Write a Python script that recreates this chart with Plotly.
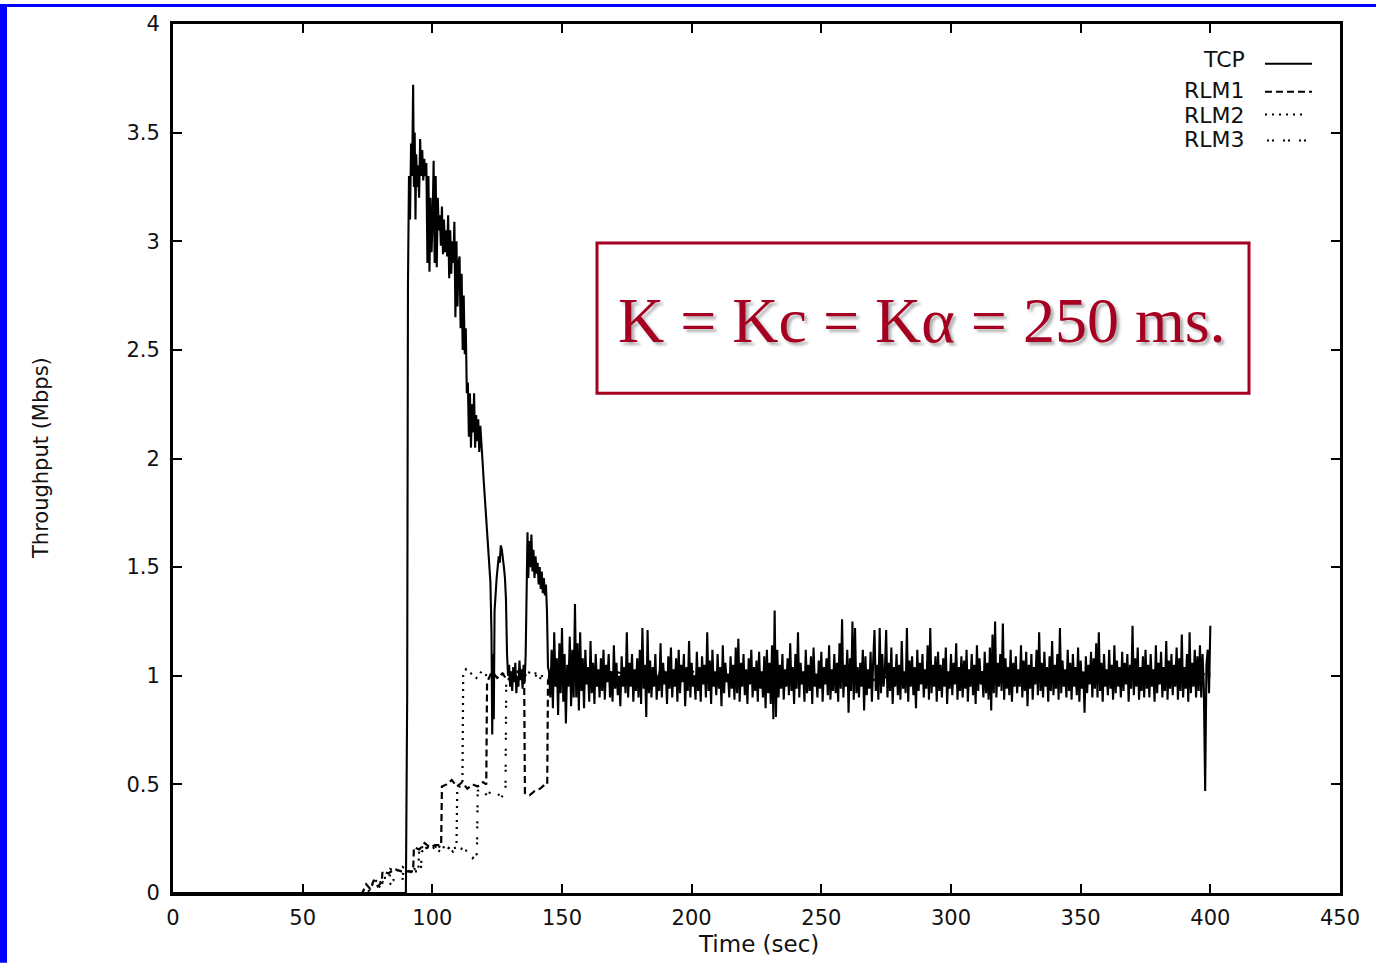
import numpy as np
import plotly.graph_objects as go

# ---------------- data ----------------
x_ticks = [0, 50, 100, 150, 200, 250, 300, 350, 400, 450]
y_ticks = [0, 0.5, 1, 1.5, 2, 2.5, 3, 3.5, 4]

# TCP: start-up burst (time, Mbps)
tcp_burst = [
    (0, 0), (89.8, 0), (90.3, 0.9), (90.6, 2.8), (91, 3.3), (91.4, 3.1), (91.8, 3.45),
    (92.2, 3.3), (92.6, 3.72), (92.9, 3.25), (93.2, 3.5), (93.5, 3.1), (93.8, 3.4),
    (94.1, 3.25), (94.5, 3.35), (94.9, 3.2), (95.3, 3.47), (95.7, 3.3), (96.1, 3.42),
    (96.5, 3.28), (96.9, 3.38), (97.3, 3.3), (97.7, 3.36), (98.1, 2.9), (98.5, 3.3),
    (98.9, 2.86), (99.3, 3.2), (99.7, 2.95), (100.1, 3.1), (100.5, 3.37), (100.9, 2.9),
    (101.3, 3.3), (101.7, 2.88), (102.1, 3.2), (102.5, 3.05), (102.9, 3.12), (103.3, 2.98),
    (103.7, 3.16), (104.1, 2.94), (104.5, 3.1), (104.9, 2.95), (105.3, 3.05), (105.7, 2.93),
    (106.1, 3.12), (106.5, 2.83), (106.9, 3.05), (107.3, 2.85), (107.7, 3.0), (108.1, 2.9),
    (108.5, 3.09), (108.9, 2.65), (109.3, 3.0), (109.7, 2.7), (110.1, 2.9), (110.5, 2.93),
    (110.9, 2.6), (111.3, 2.85), (111.7, 2.5), (112.1, 2.75), (112.5, 2.48), (112.9, 2.6),
    (113.3, 2.3), (113.7, 2.35), (114.1, 2.1), (114.5, 2.3), (114.9, 2.05), (115.3, 2.25),
    (115.7, 2.12), (116.1, 2.3), (116.5, 2.05), (116.9, 2.2), (117.3, 2.08), (117.7, 2.18),
    (118.1, 2.03), (118.5, 2.15), (118.9, 2.05), (119.3, 2.0), (119.8, 1.9), (120.3, 1.8),
    (120.8, 1.72), (121.2, 1.62), (121.6, 1.55), (122, 1.48), (122.4, 1.43), (122.8, 1.2),
    (123.1, 0.73), (123.4, 1.1), (123.7, 0.8), (124, 1.3), (124.4, 1.4), (124.8, 1.45),
    (125.2, 1.5), (125.6, 1.55), (126, 1.52), (126.4, 1.6), (126.8, 1.58), (127.2, 1.55),
    (127.6, 1.5), (128, 1.45), (128.4, 1.35), (128.8, 1.1), (129.2, 1.0), (129.6, 1.05),
    (130, 0.95), (130.4, 1.02), (130.8, 0.93), (131.2, 1.04), (131.6, 0.97), (132, 1.06),
    (132.4, 0.92), (132.8, 1.0), (133.2, 0.95), (133.6, 1.07), (134, 0.98), (134.4, 1.03),
    (134.8, 0.94), (135.2, 1.05), (135.6, 0.97), (136, 1.1), (136.4, 1.4), (136.7, 1.66),
    (137, 1.45), (137.4, 1.62), (137.8, 1.5), (138.2, 1.65), (138.6, 1.48), (139, 1.58),
    (139.4, 1.45), (139.8, 1.55), (140.2, 1.47), (140.6, 1.52), (141, 1.42), (141.4, 1.5),
    (141.8, 1.4), (142.2, 1.48), (142.6, 1.38), (143, 1.45), (143.4, 1.37), (143.8, 1.42),
    (144.2, 1.3), (144.6, 1.04),
]

# TCP: steady state, one reading every 0.5 s starting at t = 145 s
tcp_steady_start = 145.0
tcp_steady_step = 0.5
tcp_steady = [
    1.02, 0.9, 1.12, 0.85, 1.2, 0.95, 1.08, 0.82, 1.15, 0.92, 1.22, 0.88, 1.1, 0.78, 1.05, 0.95, 1.18, 0.86, 1.12, 0.9,
    1.33, 0.9, 1.15, 0.84, 1.2, 0.93, 1.08, 0.85, 1.12, 0.96, 1.04, 0.88, 1.16, 0.92, 1.06, 0.87, 1.1, 0.95, 1.03, 0.9,
    1.08, 0.93, 1.12, 0.89, 1.05, 0.97, 1.1, 0.9, 1.02, 0.88, 1.14, 0.94, 1.06, 0.91, 1.0, 0.86, 1.09, 0.95, 1.04, 0.92,
    1.2, 0.9, 1.06, 0.95, 1.1, 0.88, 1.03, 0.93, 1.08, 0.9, 1.12, 0.87, 1.22, 0.94, 1.05, 0.81, 1.21, 0.92, 1.07, 0.9,
    1.04, 0.95, 1.1, 0.89, 1.0, 0.93, 1.15, 0.9, 1.06, 0.96, 1.02, 0.87, 1.09, 0.94, 1.13, 0.9, 1.03, 0.95, 1.08, 0.88,
    1.12, 0.92, 1.05, 0.97, 1.1, 0.86, 1.04, 0.93, 1.16, 0.9, 1.06, 0.95, 1.0, 0.89, 1.11, 0.93, 1.04, 0.88, 1.09, 0.96,
    1.05, 0.9, 1.2, 0.93, 1.07, 0.87, 1.12, 0.95, 1.02, 0.91, 1.1, 0.94, 1.04, 0.86, 1.14, 0.92, 1.06, 0.97, 1.01, 0.9,
    1.09, 0.94, 1.05, 0.89, 1.13, 0.92, 1.17, 0.88, 1.06, 0.95, 1.1, 0.91, 1.03, 0.87, 1.08, 0.96, 1.12, 0.9, 1.04, 0.93,
    1.07, 0.88, 1.11, 0.94, 1.02, 0.9, 1.09, 0.85, 1.12, 0.92, 1.06, 0.87, 1.14, 0.8, 1.3, 0.81, 1.12, 0.9, 1.05, 0.94,
    1.1, 0.89, 1.03, 0.95, 1.08, 0.91, 1.15, 0.93, 1.04, 0.87, 1.1, 0.94, 1.2, 0.9, 1.06, 0.96, 1.02, 0.88, 1.12, 0.92,
    1.05, 0.93, 1.09, 0.87, 1.13, 0.95, 1.01, 0.9, 1.07, 0.94, 1.11, 0.88, 1.04, 0.96, 1.08, 0.91, 1.14, 0.89, 1.03, 0.93,
    1.1, 0.92, 1.06, 0.88, 1.15, 0.94, 1.26, 0.9, 1.05, 0.95, 1.12, 0.83, 1.08, 0.93, 1.25, 0.89, 1.22, 0.92, 1.04, 0.9,
    1.06, 0.95, 1.12, 0.84, 1.09, 0.91, 1.03, 0.94, 1.11, 0.88, 1.07, 1.21, 0.93, 1.05, 0.89, 1.22, 0.92, 1.1, 0.95, 1.02,
    1.21, 0.9, 1.06, 0.93, 1.13, 0.87, 1.04, 0.95, 1.1, 0.91, 1.05, 0.89, 1.16, 0.94, 1.02, 0.92, 1.22, 0.88, 1.07, 0.95,
    1.09, 0.91, 1.04, 0.85, 1.12, 0.93, 1.06, 0.96, 1.1, 0.9, 1.03, 0.94, 1.14, 0.89, 1.22, 0.92, 1.05, 0.95, 1.09, 0.88,
    1.11, 0.93, 1.05, 0.9, 1.08, 0.95, 1.13, 0.87, 1.02, 0.94, 1.1, 0.91, 1.06, 0.96, 1.15, 0.89, 1.04, 0.93, 1.09, 0.9,
    1.07, 0.94, 1.12, 0.88, 1.03, 0.95, 1.1, 0.91, 1.05, 0.87, 1.14, 0.93, 1.08, 0.96, 1.02, 0.9, 1.11, 0.92, 1.06, 0.89,
    1.13, 0.84, 1.19, 0.92, 1.25, 0.9, 1.06, 0.95, 1.1, 0.93, 1.24, 0.89, 1.08, 0.94, 1.04, 0.91, 1.12, 0.88, 1.06, 0.95,
    1.09, 0.92, 1.03, 0.95, 1.14, 0.9, 1.07, 0.93, 1.11, 0.86, 1.05, 0.94, 1.1, 0.89, 1.04, 0.96, 1.12, 0.91, 1.2, 0.93,
    1.06, 0.9, 1.11, 0.95, 1.04, 0.88, 1.09, 0.93, 1.16, 0.91, 1.05, 0.94, 1.1, 0.89, 1.22, 0.92, 1.07, 0.95, 1.03, 0.9,
    1.12, 0.93, 1.06, 0.89, 1.1, 0.95, 1.04, 0.91, 1.13, 0.88, 1.07, 0.94, 1.02, 0.83, 1.09, 0.92, 1.05, 0.96, 1.11, 0.9,
    1.08, 0.94, 1.15, 0.9, 1.2, 0.93, 1.06, 0.88, 1.1, 0.95, 1.03, 0.91, 1.12, 0.94, 1.05, 0.89, 1.14, 0.92, 1.07, 0.95,
    1.04, 0.9, 1.11, 0.93, 1.06, 0.96, 1.1, 0.88, 1.05, 0.94, 1.23, 0.91, 1.08, 0.95, 1.13, 0.89, 1.04, 0.93, 1.09, 0.9,
    1.12, 0.94, 1.05, 0.9, 1.1, 0.95, 1.03, 0.88, 1.14, 0.92, 1.06, 0.96, 1.11, 0.9, 1.04, 0.93, 1.16, 0.89, 1.07, 0.94,
    1.1, 0.91, 1.05, 0.95, 1.13, 0.89, 1.08, 0.93, 1.19, 0.9, 1.04, 0.94, 1.1, 0.88, 1.2, 0.92, 1.06, 0.95, 1.12, 0.9,
    1.09, 0.93, 1.14, 0.9, 1.1, 0.94, 0.47, 1.05, 1.12, 0.92, 1.23,
]

# RLM receivers (time, Mbps)
rlm1 = [
    (0, 0), (73, 0), (74.5, 0.04), (76, 0.02), (77.5, 0.06), (79, 0.03), (80.5, 0.05), (80.8, 0.1),
    (83, 0.09), (85.5, 0.11), (88, 0.1), (90.5, 0.1), (92.6, 0.1), (92.9, 0.21), (95, 0.2), (97, 0.23),
    (99, 0.21), (101, 0.22), (103.4, 0.22), (103.7, 0.49), (105.5, 0.5), (107.5, 0.52), (109.5, 0.49),
    (111.5, 0.51), (113.5, 0.48), (115.5, 0.5), (117.5, 0.49), (119.5, 0.51), (120.8, 0.5), (121.1, 0.97),
    (123, 1.02), (125, 0.99), (127, 1.01), (129, 0.98), (131, 1.0), (133, 1.02), (135.4, 1.0), (135.7, 0.46),
    (137.5, 0.45), (139.5, 0.47), (141.5, 0.48), (143.5, 0.5), (144.3, 0.5), (144.6, 0.98), (147, 1.01),
    (150, 1.0), (160, 0.98), (170, 1.02), (180, 0.99), (190, 1.01), (200, 1.0), (210, 0.97), (220, 1.02),
    (230, 1.0), (240, 0.99), (250, 1.03), (260, 1.0), (270, 0.98), (280, 1.01), (290, 1.0), (300, 0.99),
    (310, 1.02), (320, 1.0), (330, 0.98), (340, 1.01), (350, 1.0), (360, 1.02), (370, 0.99), (380, 1.0),
    (390, 0.98), (400, 1.0),
]
rlm2 = [
    (0, 0), (75, 0), (76.5, 0.03), (78, 0.06), (79.5, 0.04), (81, 0.07), (83.5, 0.07), (83.8, 0.11),
    (86, 0.1), (88.5, 0.12), (91, 0.1), (94.6, 0.1), (94.9, 0.2), (97, 0.22), (99, 0.2), (101, 0.21),
    (103, 0.19), (105, 0.22), (107, 0.2), (109.3, 0.21), (109.6, 0.47), (110.5, 0.49), (111.6, 0.5),
    (111.9, 1.0), (113, 1.03), (115, 1.01), (117, 0.99), (119, 1.02), (121, 1.0), (124, 0.98), (127, 1.01),
    (130, 1.0), (134, 0.99), (138, 1.02), (142, 1.0), (146, 0.99), (150, 1.01), (160, 1.0), (170, 0.98),
    (180, 1.01), (190, 1.0), (200, 1.02), (210, 0.99), (220, 1.0), (230, 0.98), (240, 1.01), (250, 1.0),
    (260, 0.99), (270, 1.02), (280, 1.0), (290, 0.98), (300, 1.0), (310, 1.01), (320, 0.99), (330, 1.0),
    (340, 1.02), (350, 0.98), (360, 1.0), (370, 1.01), (380, 0.99), (390, 1.0), (400, 1.01),
]
rlm3 = [
    (0, 0), (77, 0), (79, 0.02), (81, 0.05), (83, 0.03), (85, 0.06), (87, 0.05), (88.5, 0.06), (88.8, 0.1),
    (91, 0.09), (93, 0.11), (95.6, 0.1), (95.9, 0.19), (98, 0.21), (100, 0.2), (102, 0.22), (104, 0.2),
    (106, 0.21), (108, 0.19), (110, 0.21), (112, 0.2), (114, 0.19), (115.5, 0.16), (117.2, 0.18),
    (117.5, 0.47), (119, 0.48), (121, 0.45), (123, 0.47), (125, 0.46), (126.5, 0.44), (128.2, 0.46),
    (128.5, 0.97), (130, 1.0), (132, 1.02), (134, 0.99), (137, 1.01), (140, 1.0), (143, 0.98), (146, 1.01),
    (150, 1.0), (160, 1.01), (170, 0.99), (180, 1.0), (190, 1.02), (200, 0.98), (210, 1.0), (220, 1.01),
    (230, 0.99), (240, 1.0), (250, 0.98), (260, 1.01), (270, 1.0), (280, 0.99), (290, 1.02), (300, 1.0),
    (310, 0.98), (320, 1.01), (330, 1.0), (340, 0.99), (350, 1.01), (360, 1.0), (370, 0.98), (380, 1.01),
    (390, 1.0), (400, 0.99),
]

legend_names = ["TCP", "RLM1", "RLM2", "RLM3"]
note_text = "K = Kc = Kα = 250 ms."

# ---------------- build ----------------
W, H = 1376, 963
L, R, T, B = 173, 1340, 20, 893


def px_x(px):
    return (px - L) / (R - L)


def px_y(py):
    return (B - py) / (B - T)


tcp_t = [p[0] for p in tcp_burst] + list(tcp_steady_start + tcp_steady_step * np.arange(len(tcp_steady)))
tcp_y = [p[1] for p in tcp_burst] + tcp_steady

dashes = {"TCP": "solid", "RLM1": "7px,4px", "RLM2": "2px,5px", "RLM3": "2px,3px,2px,9px"}

fig = go.Figure()
for name, pts in [("RLM3", rlm3), ("RLM2", rlm2), ("RLM1", rlm1)]:
    fig.add_trace(go.Scatter(
        x=[p[0] for p in pts], y=[p[1] for p in pts], mode="lines", name=name,
        line=dict(color="black", width=2.2, dash=dashes[name]), showlegend=False,
    ))
fig.add_trace(go.Scatter(
    x=tcp_t, y=tcp_y, mode="lines", name="TCP",
    line=dict(color="black", width=2.1), showlegend=False,
))

axis_common = dict(
    showline=True, linewidth=3, linecolor="black", mirror="ticks",
    ticks="inside", ticklen=9, tickwidth=2, tickcolor="black",
    showgrid=False, zeroline=False,
    tickfont=dict(family="DejaVu Sans", size=21, color="#111"),
)
fig.update_xaxes(range=[0, 450], tickvals=x_ticks, ticklabelstandoff=4, **axis_common)
fig.update_yaxes(range=[0, 4], tickvals=y_ticks, ticklabelstandoff=6, **axis_common)

shapes = []
# slide frame (blue)
shapes.append(dict(type="rect", xref="paper", yref="paper", x0=px_x(0), x1=px_x(7),
                   y0=px_y(H), y1=px_y(0), fillcolor="#0000FF", line=dict(width=0), layer="above"))
shapes.append(dict(type="rect", xref="paper", yref="paper", x0=px_x(0), x1=px_x(W),
                   y0=px_y(3), y1=px_y(0), fillcolor="#0000FF", line=dict(width=0), layer="above"))
# note box
shapes.append(dict(type="rect", xref="paper", yref="paper", x0=px_x(597), x1=px_x(1249),
                   y0=px_y(391), y1=px_y(240), line=dict(color="#A50021", width=3)))

annotations = [
    dict(text=note_text, x=px_x(922), y=px_y(318), xref="paper", yref="paper",
         xanchor="center", yanchor="middle", showarrow=False,
         font=dict(family="Liberation Serif", size=64, color="#A50021",
                   shadow="3px 3px 3px rgba(110,110,110,0.55)")),
    dict(text="Time (sec)", x=px_x(758), y=px_y(944), xref="paper", yref="paper",
         xanchor="center", yanchor="middle", showarrow=False,
         font=dict(family="DejaVu Sans", size=23, color="#111")),
    dict(text="Throughput (Mbps)", x=px_x(41), y=px_y(456), xref="paper", yref="paper",
         xanchor="center", yanchor="middle", showarrow=False, textangle=-90,
         font=dict(family="DejaVu Sans", size=21, color="#111")),
]

# gnuplot-style key (text right-aligned, sample line on the right)
key_rows = [(56, 60, 1265, 1312), (87, 88, 1265, 1312), (112, 111, 1265, 1305), (136, 137, 1267, 1308)]
for name, (ty, ly, lx0, lx1) in zip(legend_names, key_rows):
    annotations.append(dict(text=name, x=px_x(1247), y=px_y(ty), xref="paper", yref="paper",
                            xanchor="right", yanchor="middle", showarrow=False,
                            font=dict(family="DejaVu Sans", size=22, color="#111")))
    shapes.append(dict(type="line", xref="paper", yref="paper", x0=px_x(lx0), x1=px_x(lx1),
                       y0=px_y(ly), y1=px_y(ly),
                       line=dict(color="black", width=2, dash=dashes[name])))

fig.update_layout(
    width=W, height=H, autosize=False,
    margin=dict(l=L, r=W - R, t=T, b=H - B, pad=0),
    paper_bgcolor="white", plot_bgcolor="white",
    shapes=shapes, annotations=annotations, showlegend=False,
)

fig.write_html("out.html", config={"displayModeBar": False},
               post_script="document.body.style.margin='0px';")
